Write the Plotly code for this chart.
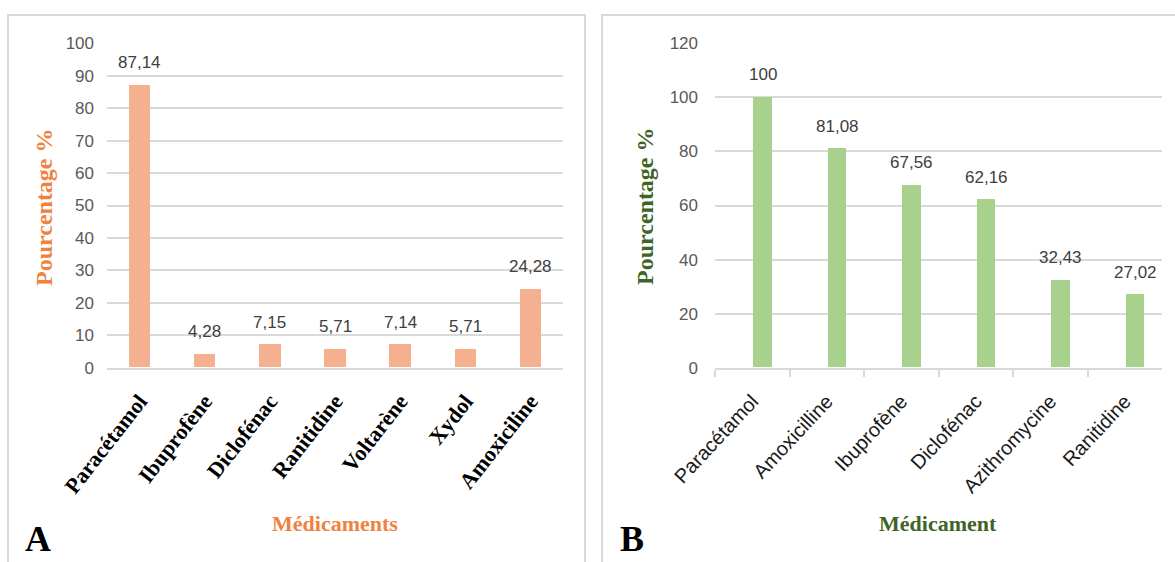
import plotly.graph_objects as go

# Panel A: medicines (percentage of respondents)
meds_a = ["Paracétamol", "Ibuprofène", "Diclofénac", "Ranitidine", "Voltarène", "Xydol", "Amoxiciline"]
pct_a = [87.14, 4.28, 7.15, 5.71, 7.14, 5.71, 24.28]
ticks_a = list(range(0, 101, 10))

# Panel B: medicines (percentage)
meds_b = ["Paracétamol", "Amoxicilline", "Ibuprofène", "Diclofénac", "Azithromycine", "Ranitidine"]
pct_b = [100, 81.08, 67.56, 62.16, 32.43, 27.02]
ticks_b = list(range(0, 121, 20))

W, H = 1175, 562
SANS = "Liberation Sans, Arial, sans-serif"
SERIF = "Liberation Serif, Times New Roman, serif"
GRID = "#D9D9D9"
ORANGE_BAR = "#F5B090"
GREEN_BAR = "#A9D18E"
ORANGE_TXT = "#F0823F"
GREEN_TXT = "#3F6426"


def fmt(v):
    return f"{v:g}".replace(".", ",")


def px_x(x):
    return x / W


def px_y(y):
    return 1 - y / H


B_WIDTH = 0.25
B_OFFSET = 0.015

fig = go.Figure()

fig.add_trace(go.Bar(
    x=meds_a, y=pct_a, width=0.33,
    marker=dict(color=ORANGE_BAR, line=dict(width=0)),
    xaxis="x", yaxis="y", showlegend=False,
))
fig.add_trace(go.Bar(
    x=meds_b, y=pct_b, width=B_WIDTH, offset=B_OFFSET,
    marker=dict(color=GREEN_BAR, line=dict(width=0)),
    xaxis="x2", yaxis="y2", showlegend=False,
))

annotations = []
label_font = dict(family=SANS, size=17, color="#404040")
for i, v in enumerate(pct_a):
    annotations.append(dict(x=i, y=v, xref="x", yref="y", text=fmt(v), showarrow=False,
                            xanchor="center", yanchor="bottom", yshift=11, font=label_font))
for i, v in enumerate(pct_b):
    annotations.append(dict(x=i + B_OFFSET + B_WIDTH / 2, y=v, xref="x2", yref="y2", text=fmt(v),
                            showarrow=False, xanchor="center", yanchor="bottom", yshift=11,
                            font=label_font))

# Axis titles and panel letters
centred = dict(xref="paper", yref="paper", showarrow=False, xanchor="center", yanchor="middle")
annotations += [
    dict(centred, x=px_x(335), y=px_y(523), text="<b>Médicaments</b>",
         font=dict(family=SERIF, size=22, color=ORANGE_TXT)),
    dict(centred, x=px_x(938), y=px_y(523), text="<b>Médicament</b>",
         font=dict(family=SERIF, size=22, color=GREEN_TXT)),
    dict(centred, x=px_x(44), y=px_y(207), text="<b>Pourcentage %</b>", textangle=-90,
         font=dict(family=SERIF, size=24, color=ORANGE_TXT)),
    dict(centred, x=px_x(645), y=px_y(206), text="<b>Pourcentage %</b>", textangle=-90,
         font=dict(family=SERIF, size=24, color=GREEN_TXT)),
    dict(centred, x=px_x(38), y=px_y(561), yanchor="bottom", text="<b>A</b>",
         font=dict(family=SERIF, size=36, color="black")),
    dict(centred, x=px_x(632), y=px_y(561), yanchor="bottom", text="<b>B</b>",
         font=dict(family=SERIF, size=36, color="black")),
]

# Panel frames
frame = dict(type="rect", xref="paper", yref="paper", line=dict(color=GRID, width=2),
             fillcolor="rgba(0,0,0,0)", layer="below")
shapes = [
    dict(frame, x0=px_x(8), x1=px_x(585), y0=-0.05, y1=px_y(15)),
    dict(frame, x0=px_x(602), x1=1.05, y0=-0.05, y1=px_y(15)),
]

ydom = [px_y(367.7), px_y(43.3)]

fig.update_layout(
    width=W, height=H,
    margin=dict(l=0, r=0, t=0, b=0, autoexpand=False),
    paper_bgcolor="white", plot_bgcolor="rgba(0,0,0,0)",
    bargap=0,
    annotations=annotations,
    shapes=shapes,
    xaxis=dict(domain=[px_x(107), px_x(563)], anchor="y", type="category", automargin=False,
               range=[-0.5, len(meds_a) - 0.5],
               showline=True, linecolor=GRID, linewidth=2, ticks="",
               tickangle=-52, showgrid=False, ticklabelstandoff=10,
               tickfont=dict(family=SERIF, size=22, color="black", weight="bold")),
    yaxis=dict(domain=ydom, anchor="x", range=[0, 100], tickvals=ticks_a, automargin=False,
               showgrid=True, gridcolor=GRID, gridwidth=2, zeroline=False,
               showline=False, ticks="", ticklabelstandoff=12,
               tickfont=dict(family=SANS, size=17, color="#595959")),
    xaxis2=dict(domain=[px_x(715), px_x(1162)], anchor="y2", type="category", automargin=False,
                range=[-0.5, len(meds_b) - 0.5],
                showline=True, linecolor=GRID, linewidth=2,
                ticks="outside", tickson="boundaries", ticklen=7, tickcolor=GRID, tickwidth=2,
                tickangle=-47, showgrid=False, ticklabelstandoff=12,
                tickfont=dict(family=SANS, size=20, color="#1A1A1A")),
    yaxis2=dict(domain=ydom, anchor="x2", range=[0, 120], tickvals=ticks_b, automargin=False,
                showgrid=True, gridcolor=GRID, gridwidth=2, zeroline=False,
                showline=False, ticks="", ticklabelstandoff=16,
                tickfont=dict(family=SANS, size=17, color="#595959")),
)

fig.write_html("out.html")
